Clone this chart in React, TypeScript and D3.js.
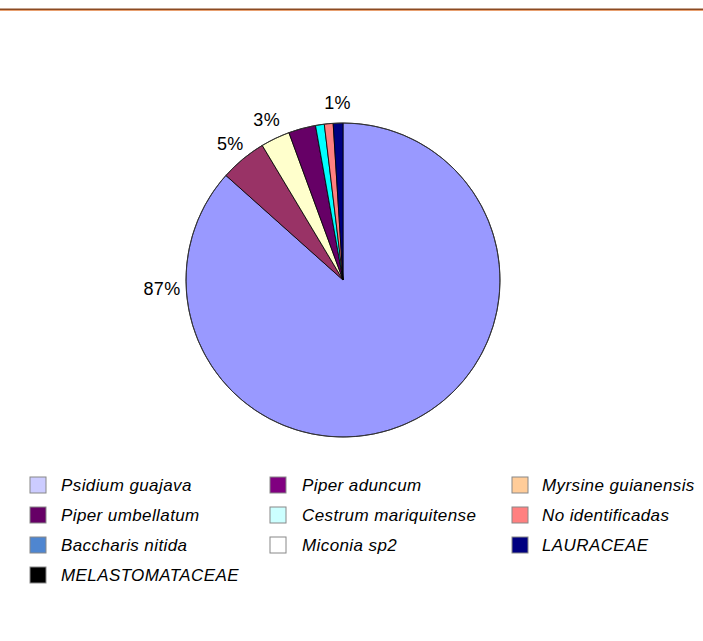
import React from "react";
import * as d3 from "d3";

const categories = [
  "Psidium guajava",
  "Piper aduncum",
  "Myrsine guianensis",
  "Piper umbellatum",
  "Cestrum mariquitense",
  "No identificadas",
  "Baccharis nitida",
  "Miconia sp2",
  "LAURACEAE",
  "MELASTOMATACEAE",
];
const values = [86.6, 4.8, 3.0, 2.8, 0.9, 0.9, 0, 0, 1.0, 0];
const sliceColors = ["#9999FF", "#993366", "#FFFFCC", "#660066", "#00FFFF", "#FF8080", "#0066CC", "#CCCCFF", "#000080", "#FF00FF"];
const legendColors = ["#CCCCFF", "#800080", "#FFCC99", "#660066", "#CCFFFF", "#FF8080", "#4F86D0", "#FFFFFF", "#000080", "#000000"];
const showLabel = [true, true, true, false, false, false, false, false, true, false];

const W = 703;
const H = 641;
const cx = 343;
const cy = 280;
const R = 157;

export default function App() {
  const total = d3.sum(values);
  const pie = d3.pie<number>().sort(null).value((d) => d)(values);
  const arc = d3.arc<d3.PieArcDatum<number>>().innerRadius(0).outerRadius(R);
  const fmt = (v: number) => `${Math.round((v / total) * 100)}%`;
  const legendX = [30, 270, 512];
  const legendTextX = [61, 302, 542];
  const rowY = d3.range(4).map((i) => 485 + i * 30);

  return (
    <svg width={W} height={H} style={{ position: "absolute", left: 0, top: 0, background: "#fff" }}>
      <rect x={0} y={8.5} width={W} height={1.5} fill="#8B4A22" />
      <rect x={0} y={10} width={W} height={1} fill="#E8A070" />
      <g transform={`translate(${cx},${cy})`}>
        {pie.map((p, i) =>
          p.value > 0 ? (
            <path key={i} d={arc(p) || ""} fill={sliceColors[i]} stroke="#000" strokeWidth={0.8} />
          ) : null
        )}
        <circle r={R} fill="none" stroke="#333" strokeWidth={0.8} />
        {pie.map((p, i) => {
          if (!showLabel[i]) return null;
          const isBig = p.value / total > 0.5;
          const a = isBig ? -Math.PI / 2 : (p.startAngle + p.endAngle) / 2;
          const lr = isBig ? R + 24 : R + 20;
          const x = Math.sin(a) * lr;
          const y = -Math.cos(a) * lr + (isBig ? 9 : 0);
          return (
            <text
              key={"l" + i}
              x={x}
              y={y}
              textAnchor="middle"
              dominantBaseline="central"
              fontFamily="Liberation Sans, Arial, sans-serif"
              fontSize={18}
              letterSpacing={0.3}
              fill="#000"
            >
              {fmt(p.value)}
            </text>
          );
        })}
      </g>
      {categories.map((c, i) => {
        const col = i % 3;
        const row = Math.floor(i / 3);
        const y = rowY[row];
        return (
          <g key={c}>
            <rect x={legendX[col]} y={y - 8} width={16} height={16} fill={legendColors[i]} stroke="#888" strokeWidth={1} />
            <text
              x={legendTextX[col]}
              y={y}
              dominantBaseline="central"
              fontFamily="Liberation Sans, Arial, sans-serif"
              fontStyle="italic"
              fontSize={17}
              letterSpacing={0.4}
              fill="#000"
            >
              {c}
            </text>
          </g>
        );
      })}
    </svg>
  );
}
